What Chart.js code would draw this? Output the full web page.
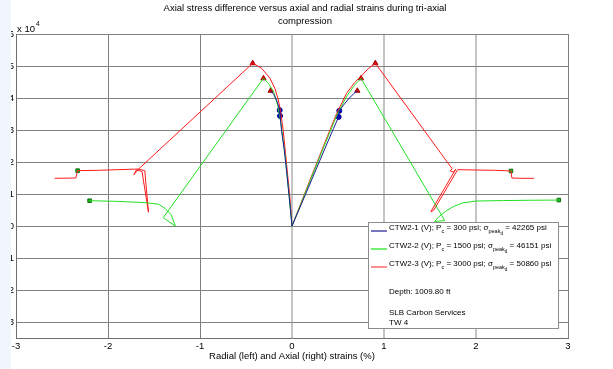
<!DOCTYPE html>
<html>
<head>
<meta charset="utf-8">
<script src="https://cdn.jsdelivr.net/npm/chart.js@4.4.1/dist/chart.umd.min.js"></script>
<style>
  html, body { margin: 0; padding: 0; background: #ffffff; }
  #wrap { width: 613px; height: 369px; position: relative; }
</style>
</head>
<body>
<div id="wrap"><canvas id="c" width="613" height="369"></canvas></div>
<script>
// Tri-axial compression: stress difference (psi) against strain (%).
// Radial strain is plotted on the negative side, axial strain on the positive side.

const xTicks = [-3, -2, -1, 0, 1, 2, 3];
const yTicks = [-3, -2, -1, 0, 1, 2, 3, 4, 5, 6];   // x 10^4 psi

const specimenNames = ['CTW2-1', 'CTW2-2', 'CTW2-3'];
const confiningPressures = [300, 1500, 3000];      // psi
const peakStresses = [42265, 46151, 50860];        // psi
const depthFt = '1009.80';
const companyName = 'SLB Carbon Services';
const wellName = 'TW 4';

// [strain %, stress difference psi]
const ctw21Axial = [[0, 0], [0.15, 10100], [0.3, 20300], [0.45, 30400], [0.507, 34100], [0.514, 36000],
  [0.56, 37800], [0.62, 39900], [0.67, 41300], [0.71, 42265]];
const ctw21Radial = [[0, 0], [-0.03, 9000], [-0.058, 17000], [-0.085, 24000], [-0.112, 29500], [-0.13, 34400],
  [-0.134, 36200], [-0.16, 38800], [-0.2, 41200], [-0.232, 42265]];

const ctw22Axial = [[0, 0], [0.2, 14300], [0.35, 25000], [0.49, 34800], [0.6, 40800], [0.68, 44000], [0.75, 46151],
  [1.66, 1700], [1.55, 1400], [1.60, 3000], [1.68, 4800], [1.75, 6000], [1.85, 7200], [2.0, 7800],
  [2.3, 7950], [2.6, 8050], [2.90, 8100]];
const ctw22Radial = [[0, 0], [-0.04, 11800], [-0.076, 22200], [-0.123, 32600], [-0.156, 37800], [-0.2, 42000],
  [-0.257, 44600], [-0.31, 46151], [-1.40, 2600], [-1.27, 0], [-1.31, 3400], [-1.38, 5500], [-1.45, 6800],
  [-1.6, 7300], [-1.9, 7700], [-2.20, 7900]];

const ctw23Axial = [[0, 0], [0.196, 14400], [0.35, 25500], [0.486, 35200], [0.594, 41500], [0.68, 44800],
  [0.757, 47000], [0.83, 49200], [0.906, 50860], [1.74, 17900], [1.72, 17200], [1.76, 16800], [1.78, 17800],
  [1.51, 4500], [1.54, 4900], [1.80, 17600], [2.0, 17500], [2.2, 17400], [2.38, 17200], [2.39, 15000],
  [2.5, 14900], [2.63, 14900]];
const ctw23Radial = [[0, 0], [-0.022, 8700], [-0.058, 19100], [-0.094, 29500], [-0.123, 35700], [-0.149, 39400],
  [-0.185, 43000], [-0.24, 46200], [-0.33, 49300], [-0.427, 50860], [-1.66, 18000], [-1.72, 16000],
  [-1.69, 17600], [-1.63, 17000], [-1.56, 4300], [-1.60, 17300], [-1.67, 17800], [-1.9, 17600],
  [-2.1, 17400], [-2.33, 17300], [-2.35, 15000], [-2.58, 14900]];

// picked points on the curves
const peakPoints = [[0.71, 42265], [-0.232, 42265], [0.75, 46151], [-0.31, 46151], [0.906, 50860], [-0.427, 50860]];
const pickedPoints = [[0.507, 34100], [0.514, 36000], [-0.13, 34400], [-0.134, 36200]];
const residualPoints = [[2.38, 17200], [-2.33, 17300], [2.90, 8100], [-2.20, 7900]];

const seriesColors = ['#1c1c96', '#22e022', '#ff1a1a'];
const legendLineColors = ['#4a4aa8', '#44ee44', '#ff6a6a'];
const FONT = '"Liberation Sans", Arial, sans-serif';

const toXY = arr => arr.map(p => ({ x: p[0], y: p[1] }));
function curve(data, color) {
  return { data: toXY(data), showLine: true, borderColor: color, borderWidth: 1, pointRadius: 0,
    pointHoverRadius: 0, tension: 0, fill: false };
}
function markers(data, style, fillC, edgeC, r) {
  return { data: toXY(data), showLine: false, pointStyle: style, pointRadius: r, pointBackgroundColor: fillC,
    pointBorderColor: edgeC, pointBorderWidth: 1 };
}

const decorations = {
  id: 'decorations',
  afterDraw(chart) {
    const ctx = chart.ctx;
    const area = chart.chartArea;
    ctx.save();
    ctx.fillStyle = '#000';
    ctx.textBaseline = 'middle';

    // title
    ctx.textAlign = 'center';
    ctx.font = '9.5px ' + FONT;
    ctx.fillText('Axial stress difference versus axial and radial strains during tri-axial', 305, 8);
    ctx.fillText('compression', 305, 21);

    // axis multiplier
    ctx.textAlign = 'left';
    ctx.font = '9.5px ' + FONT;
    ctx.fillText('x 10', 17, 29);
    const w = ctx.measureText('x 10').width;
    ctx.font = '6.5px ' + FONT;
    ctx.fillText('4', 17 + w + 1, 24);

    // x axis title
    ctx.textAlign = 'center';
    ctx.font = '9.5px ' + FONT;
    ctx.fillText('Radial (left) and Axial (right) strains (%)', (area.left + area.right) / 2, 356);

    // legend box
    const bx = 368, by = 222, bw = 190, bh = 106;
    ctx.fillStyle = '#ffffff';
    ctx.fillRect(bx, by, bw, bh);
    ctx.strokeStyle = '#8c8c8c';
    ctx.lineWidth = 1;
    ctx.strokeRect(bx + 0.5, by + 0.5, bw, bh);

    const rowY = [228, 246, 264];
    specimenNames.forEach((name, i) => {
      const y = rowY[i];
      ctx.beginPath();
      ctx.strokeStyle = legendLineColors[i];
      ctx.lineWidth = 1.5;
      ctx.moveTo(371, y + 3);
      ctx.lineTo(387, y + 3);
      ctx.stroke();
      const parts = [
        { t: name + ' (V); P', s: 8, dy: 0 },
        { t: 'c', s: 5.5, dy: 3 },
        { t: ' = ' + confiningPressures[i] + ' psi; \u03c3', s: 8, dy: 0 },
        { t: 'peak', s: 5.5, dy: 3 },
        { t: 'd', s: 4.5, dy: 6 },
        { t: ' = ' + peakStresses[i] + ' psi', s: 8, dy: 0 }
      ];
      let x = 389;
      ctx.fillStyle = '#000';
      ctx.textAlign = 'left';
      parts.forEach(p => {
        ctx.font = p.s + 'px ' + FONT;
        ctx.fillText(p.t, x, y + p.dy);
        x += ctx.measureText(p.t).width;
      });
    });
    ctx.font = '8px ' + FONT;
    ctx.fillText('Depth: ' + depthFt + ' ft', 389, 292);
    ctx.fillText(companyName, 389, 313);
    ctx.fillText(wellName, 389, 323);

    // left margin band
    ctx.fillStyle = '#f0f6fc';
    ctx.fillRect(0, 0, 11, 369);
    ctx.restore();
  }
};

new Chart(document.getElementById('c'), {
  type: 'scatter',
  data: {
    datasets: [
      curve(ctw21Axial, seriesColors[0]),
      curve(ctw21Radial, seriesColors[0]),
      curve(ctw22Axial, seriesColors[1]),
      curve(ctw22Radial, seriesColors[1]),
      curve(ctw23Axial, seriesColors[2]),
      curve(ctw23Radial, seriesColors[2]),
      markers(pickedPoints, 'circle', '#0000d0', '#00008a', 2.5),
      markers(peakPoints, 'triangle', '#e00000', '#a00000', 3),
      markers(residualPoints, 'rect', '#22b822', '#0a6a0a', 2.5)
    ]
  },
  options: {
    responsive: false,
    animation: false,
    events: [],
    layout: { padding: { top: 34, right: 45, left: 0, bottom: 0 } },
    plugins: { legend: { display: false }, title: { display: false }, tooltip: { enabled: false } },
    scales: {
      x: {
        type: 'linear', min: -3, max: 3,
        afterBuildTicks: s => { s.ticks = xTicks.map(v => ({ value: v })); },
        afterFit: s => { s.height = 31; },
        grid: {
          drawTicks: false,
          color: ctx => (ctx.tick && ctx.tick.value >= 0 && ctx.tick.value < 3) ? '#c4c4c4' : '#808080',
          lineWidth: ctx => (ctx.tick && ctx.tick.value >= 0 && ctx.tick.value < 3) ? 2 : 1
        },
        border: { color: '#6e6e6e' },
        ticks: { color: '#000', font: { family: FONT, size: 9.5 }, padding: 3, maxRotation: 0, autoSkip: false,
          callback: v => String(v) }
      },
      y: {
        type: 'linear', min: -35000, max: 60000,
        afterBuildTicks: s => { s.ticks = yTicks.map(v => ({ value: v * 10000 })); },
        afterFit: s => { s.width = 16; },
        grid: { drawTicks: false, color: '#808080' },
        border: { color: '#6e6e6e' },
        ticks: { color: '#000', font: { family: FONT, size: 9.5 }, padding: 2, autoSkip: false,
          callback: v => String(Math.round(v / 10000)) }
      }
    }
  },
  plugins: [decorations]
});
</script>
</body>
</html>
